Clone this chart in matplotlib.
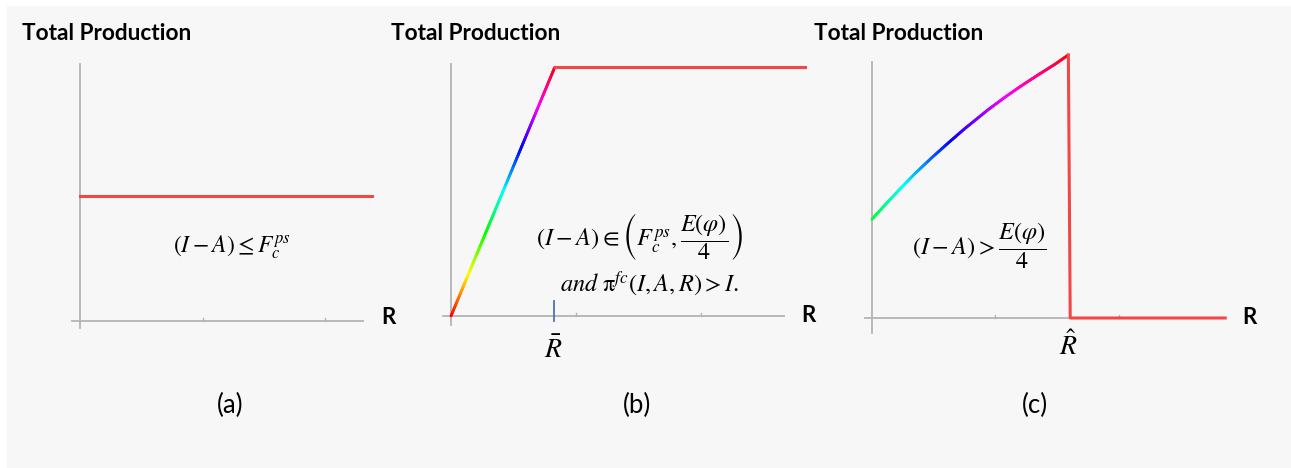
import matplotlib.pyplot as plt
import numpy as np
from matplotlib.collections import LineCollection
from matplotlib.patches import Rectangle

plt.rcParams['mathtext.fontset'] = 'stix'

W, H = 1291, 468

# panel (a): constant production
a_level = 1.02
a_xend = 2.38

# panel (b): rises linearly up to R-bar, then flat
b_x = [0.0, 0.83, 2.83]
b_y = [0.0, 1.99, 1.99]
b_rbar = 0.82

# panel (c): concave rise up to R-hat, then drops to zero
c_x = [0.0, 0.105, 0.213, 0.348, 0.483, 0.618, 0.753, 0.942, 1.077, 1.212, 1.347, 1.482, 1.59]
c_y = [0.80, 0.915, 1.03, 1.17, 1.297, 1.418, 1.535, 1.688, 1.788, 1.882, 1.970, 2.055, 2.13]
c_rhat = 1.605
c_xend = 2.86

titles = ['Total Production'] * 3
captions = ['(a)', '(b)', '(c)']

red = '#f24747'
axcol = '#b4b4b4'

fig = plt.figure(figsize=(W / 100, H / 100), dpi=100)
fig.patch.set_facecolor('white')
fig.patches.append(Rectangle((7 / W, 1 - 467 / H), (W - 7) / W, (467 - 6) / H,
                             transform=fig.transFigure, color='#f7f7f7', zorder=-10))


def fx(px):
    return px / W


def fy(py):
    return 1 - py / H


def panel(ox, oy, unit, left, right, top, bottom):
    ax = fig.add_axes([fx(left), fy(bottom), (right - left) / W, (bottom - top) / H])
    ax.set_xlim((left - ox) / unit, (right - ox) / unit)
    ax.set_ylim((oy - bottom) / unit, (oy - top) / unit)
    ax.axis('off')
    return ax


def draw_axes(ax, xmin, xmax, ymin, ymax):
    ax.plot([xmin, xmax], [0, 0], color=axcol, lw=1.3, zorder=1)
    ax.plot([0, 0], [ymin, ymax], color=axcol, lw=1.3, zorder=1)
    for t in (1, 2):
        ax.plot([t, t], [0, 0.025], color=axcol, lw=1.0, zorder=1)


def rainbow(ax, x, y, ymax):
    x = np.asarray(x)
    y = np.asarray(y)
    xs = np.linspace(x[0], x[-1], 300)
    ys = np.interp(xs, x, y)
    pts = np.column_stack([xs, ys]).reshape(-1, 1, 2)
    segs = np.concatenate([pts[:-1], pts[1:]], axis=1)
    lc = LineCollection(segs, cmap='hsv', norm=plt.Normalize(0, ymax), lw=2.0,
                        capstyle='round', zorder=3)
    lc.set_array((ys[:-1] + ys[1:]) / 2)
    ax.add_collection(lc)


# (a)
ax = panel(80, 321, 122.5, 50, 400, 40, 345)
draw_axes(ax, -0.065, 2.31, -0.06, 2.1)
ax.plot([0, a_xend], [a_level, a_level], color=red, lw=2.2, zorder=3)
ax.text(1.24, 0.6, r'$(I - A) \leq F_c^{ps}$', fontsize=17, ha='center', va='center')

# (b)
ax = panel(451, 316, 125, 425, 830, 40, 345)
draw_axes(ax, -0.065, 2.66, -0.07, 2.02)
rainbow(ax, b_x[:2], b_y[:2], b_y[1])
ax.plot(b_x[1:], b_y[1:], color=red, lw=2.2, zorder=3)
ax.plot([b_rbar, b_rbar], [-0.04, 0.12], color='#4a74b4', lw=1.3, zorder=2)
ax.text(1.51, 0.64, r'$(I - A) \in \left(F_c^{ps}, \dfrac{E(\varphi)}{4}\right)$',
        fontsize=17.5, ha='center', va='center')
ax.text(1.59, 0.26, r'$and\ \mathrm{\pi}^{fc}(I, A, R) > I.$', fontsize=17.5,
        ha='center', va='center')

# (c)
ax = panel(872, 318, 123.5, 845, 1240, 40, 345)
draw_axes(ax, -0.06, c_xend, -0.12, 2.07)
rainbow(ax, c_x, c_y, c_y[-1])
ax.plot([c_x[-1], c_rhat, c_xend], [c_y[-1], 0, 0], color=red, lw=2.2, zorder=3)
ax.text(0.87, 0.58, r'$(I - A) > \dfrac{E(\varphi)}{4}$', fontsize=17.5,
        ha='center', va='center')

# labels
for x0, t in zip([22, 391, 814], titles):
    fig.text(fx(x0), fy(33), t, fontsize=16.3, fontweight='bold', family='Lato',
             ha='left', va='center')
for xr, yr in [(388, 318), (808, 315), (1249, 318)]:
    fig.text(fx(xr), fy(yr), 'R', fontsize=16, fontweight='bold', family='Lato',
             ha='center', va='center')
for xc, c in zip([230, 637, 1035], captions):
    fig.text(fx(xc), fy(405), c, fontsize=18.5, family='Lato', ha='center', va='center')
fig.text(fx(553), fy(350), r'$\bar{R}$', fontsize=20, ha='center', va='center')
fig.text(fx(1068), fy(346), r'$\hat{R}$', fontsize=20, ha='center', va='center')

fig.savefig('out.png', dpi=100)
